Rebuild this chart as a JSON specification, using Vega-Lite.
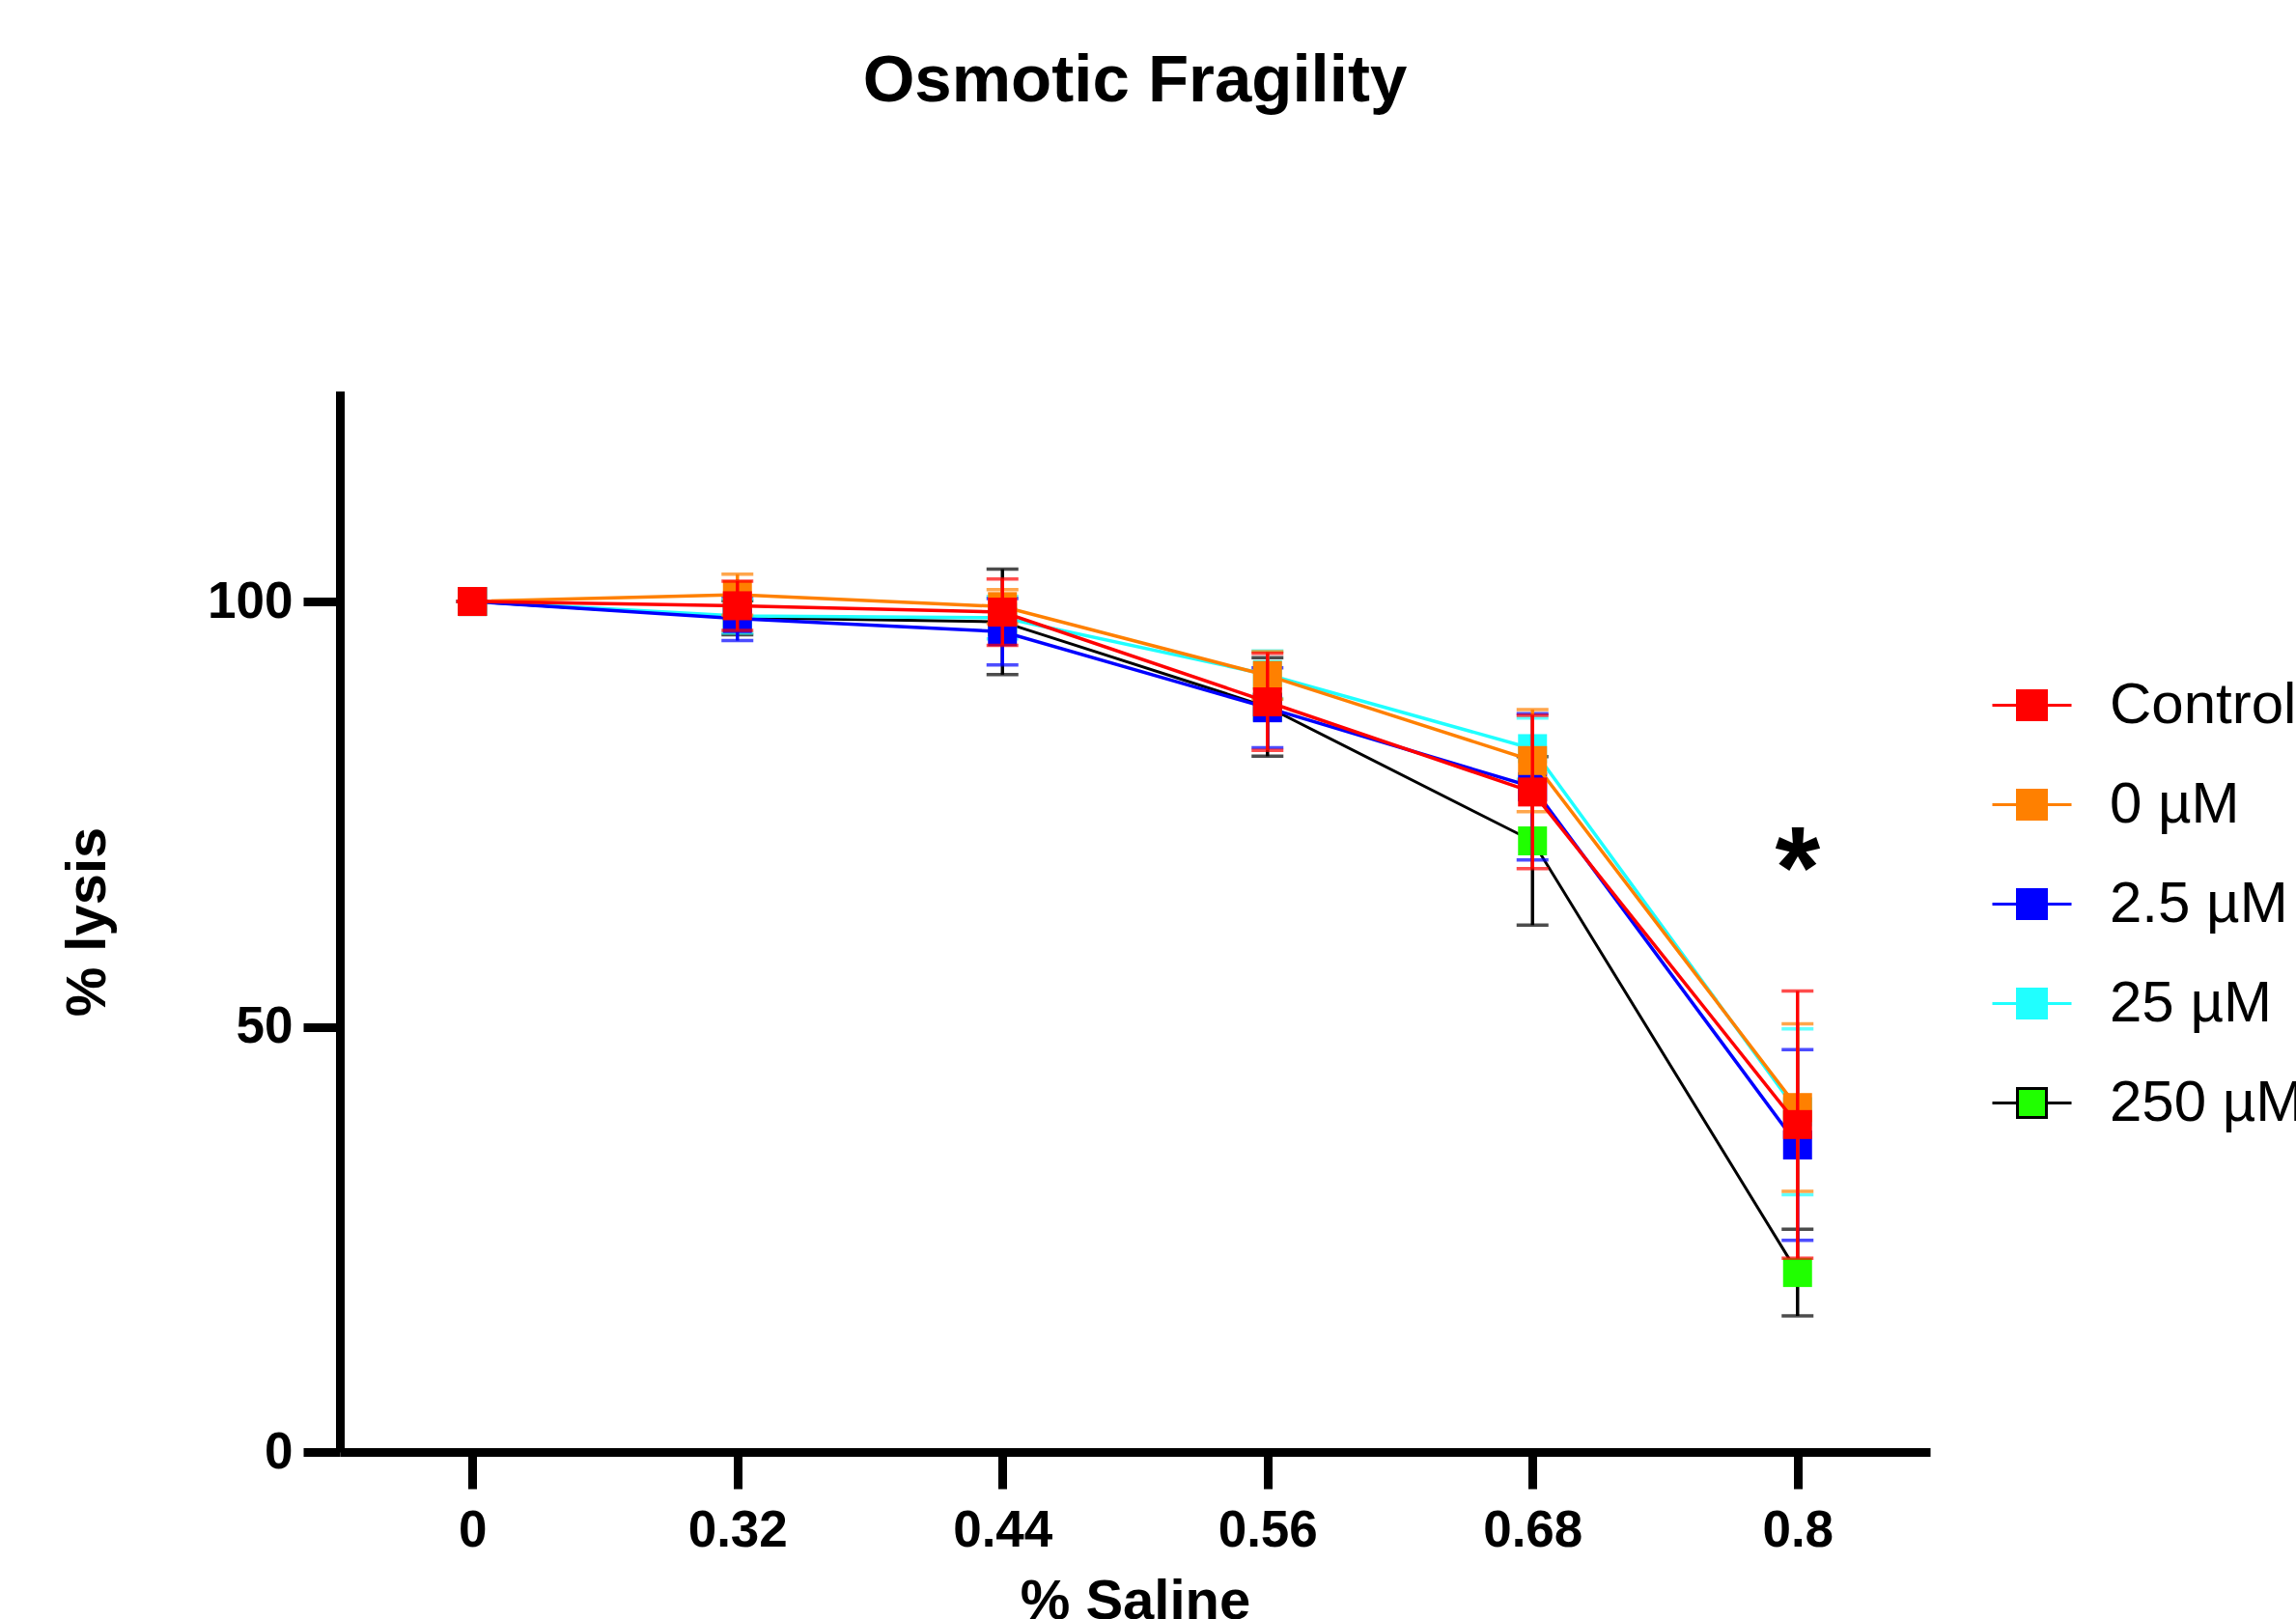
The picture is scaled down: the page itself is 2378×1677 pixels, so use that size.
{
  "$schema": "https://vega.github.io/schema/vega-lite/v6.json",
  "autosize": "none",
  "width": 1647,
  "height": 1099,
  "padding": {"left": 352, "top": 405, "right": 379, "bottom": 173},
  "background": "white",
  "title": {"text": "Osmotic Fragility", "font": "Liberation Sans", "fontWeight": "bold", "fontSize": 69, "color": "black", "anchor": "middle", "offset": 286},
  "data": {"values": [
    {"s": "Control", "x": 0, "m": 100, "e": 0},
    {"s": "Control", "x": 0.32, "m": 99.5, "e": 2.9},
    {"s": "Control", "x": 0.44, "m": 98.75, "e": 3.9},
    {"s": "Control", "x": 0.56, "m": 88.2, "e": 5.7},
    {"s": "Control", "x": 0.68, "m": 77.6, "e": 9.0},
    {"s": "Control", "x": 0.8, "m": 38.5, "e": 15.7},
    {"s": "0 µM", "x": 0, "m": 100, "e": 0},
    {"s": "0 µM", "x": 0.32, "m": 100.8, "e": 2.4},
    {"s": "0 µM", "x": 0.44, "m": 99.4, "e": 2.0},
    {"s": "0 µM", "x": 0.56, "m": 91.3, "e": 2.8},
    {"s": "0 µM", "x": 0.68, "m": 81.3, "e": 6.0},
    {"s": "0 µM", "x": 0.8, "m": 40.5, "e": 9.85},
    {"s": "2.5 µM", "x": 0, "m": 100, "e": 0},
    {"s": "2.5 µM", "x": 0.32, "m": 98.0, "e": 2.6},
    {"s": "2.5 µM", "x": 0.44, "m": 96.45, "e": 3.9},
    {"s": "2.5 µM", "x": 0.56, "m": 87.5, "e": 4.7},
    {"s": "2.5 µM", "x": 0.68, "m": 78.2, "e": 8.6},
    {"s": "2.5 µM", "x": 0.8, "m": 36.1, "e": 11.2},
    {"s": "25 µM", "x": 0, "m": 100, "e": 0},
    {"s": "25 µM", "x": 0.32, "m": 98.3, "e": 2.0},
    {"s": "25 µM", "x": 0.44, "m": 98.1, "e": 2.5},
    {"s": "25 µM", "x": 0.56, "m": 91.4, "e": 2.8},
    {"s": "25 µM", "x": 0.68, "m": 82.7, "e": 3.6},
    {"s": "25 µM", "x": 0.8, "m": 40.0, "e": 9.75},
    {"s": "250 µM", "x": 0, "m": 100, "e": 0},
    {"s": "250 µM", "x": 0.32, "m": 98.1, "e": 2.0},
    {"s": "250 µM", "x": 0.44, "m": 97.6, "e": 6.2},
    {"s": "250 µM", "x": 0.56, "m": 87.6, "e": 5.8},
    {"s": "250 µM", "x": 0.68, "m": 71.85, "e": 9.9},
    {"s": "250 µM", "x": 0.8, "m": 21.1, "e": 5.1}
  ]},
  "encoding": {
    "x": {"field": "x", "type": "ordinal", "title": "% Saline", "scale": {"type": "point", "padding": 0.5, "domain": [0, 0.32, 0.44, 0.56, 0.68, 0.8]}, "axis": {"labelAngle": 0}}
  },
  "layer": [
    {
      "transform": [{"filter": {"field": "s", "equal": "250 µM"}}],
      "layer": [
        {"mark": {"type": "errorbar", "ticks": {"size": 33, "thickness": 3.5}, "rule": {"strokeWidth": 3.5}},
         "encoding": {"y": {"field": "m", "type": "quantitative", "title": "% lysis", "scale": {"domain": [0, 124.75], "nice": false}, "axis": {"values": [0, 50, 100]}}, "yError": {"field": "e"},
           "color": {"field": "s", "type": "nominal", "legend": null, "scale": {"domain": ["250 µM", "25 µM", "2.5 µM", "0 µM", "Control"], "range": ["#000000", "#20ffff", "#0000ff", "#ff8000", "#ff0000"]}}}},
        {"mark": {"type": "line", "strokeWidth": 3},
         "encoding": {"y": {"field": "m", "type": "quantitative", "title": "% lysis"}, "color": {"field": "s", "type": "nominal", "legend": null}}},
        {"mark": {"type": "point", "shape": "square", "size": 900, "filled": true, "opacity": 1},
         "encoding": {"y": {"field": "m", "type": "quantitative", "title": "% lysis"},
           "fill": {"field": "s", "type": "nominal", "title": null, "scale": {"domain": ["Control", "0 µM", "2.5 µM", "25 µM", "250 µM"], "range": ["#ff0000", "#ff8000", "#0000ff", "#20ffff", "#20ff00"]}}}}
      ]
    },
    {
      "transform": [{"filter": {"field": "s", "equal": "25 µM"}}],
      "layer": [
        {"mark": {"type": "errorbar", "ticks": {"size": 33, "thickness": 3.5}, "rule": {"strokeWidth": 3.5}},
         "encoding": {"y": {"field": "m", "type": "quantitative", "title": "% lysis"}, "yError": {"field": "e"}, "color": {"field": "s", "type": "nominal", "legend": null}}},
        {"mark": {"type": "line", "strokeWidth": 3.5},
         "encoding": {"y": {"field": "m", "type": "quantitative", "title": "% lysis"}, "color": {"field": "s", "type": "nominal", "legend": null}}},
        {"mark": {"type": "point", "shape": "square", "size": 900, "filled": true, "opacity": 1},
         "encoding": {"y": {"field": "m", "type": "quantitative", "title": "% lysis"}, "fill": {"field": "s", "type": "nominal", "title": null}}}
      ]
    },
    {
      "transform": [{"filter": {"field": "s", "equal": "2.5 µM"}}],
      "layer": [
        {"mark": {"type": "errorbar", "ticks": {"size": 33, "thickness": 3.5}, "rule": {"strokeWidth": 3.5}},
         "encoding": {"y": {"field": "m", "type": "quantitative", "title": "% lysis"}, "yError": {"field": "e"}, "color": {"field": "s", "type": "nominal", "legend": null}}},
        {"mark": {"type": "line", "strokeWidth": 3.5},
         "encoding": {"y": {"field": "m", "type": "quantitative", "title": "% lysis"}, "color": {"field": "s", "type": "nominal", "legend": null}}},
        {"mark": {"type": "point", "shape": "square", "size": 900, "filled": true, "opacity": 1},
         "encoding": {"y": {"field": "m", "type": "quantitative", "title": "% lysis"}, "fill": {"field": "s", "type": "nominal", "title": null}}}
      ]
    },
    {
      "transform": [{"filter": {"field": "s", "equal": "0 µM"}}],
      "layer": [
        {"mark": {"type": "errorbar", "ticks": {"size": 33, "thickness": 3.5}, "rule": {"strokeWidth": 3.5}},
         "encoding": {"y": {"field": "m", "type": "quantitative", "title": "% lysis"}, "yError": {"field": "e"}, "color": {"field": "s", "type": "nominal", "legend": null}}},
        {"mark": {"type": "line", "strokeWidth": 3.5},
         "encoding": {"y": {"field": "m", "type": "quantitative", "title": "% lysis"}, "color": {"field": "s", "type": "nominal", "legend": null}}},
        {"mark": {"type": "point", "shape": "square", "size": 900, "filled": true, "opacity": 1},
         "encoding": {"y": {"field": "m", "type": "quantitative", "title": "% lysis"}, "fill": {"field": "s", "type": "nominal", "title": null}}}
      ]
    },
    {
      "transform": [{"filter": {"field": "s", "equal": "Control"}}],
      "layer": [
        {"mark": {"type": "errorbar", "ticks": {"size": 33, "thickness": 3.5}, "rule": {"strokeWidth": 3.5}},
         "encoding": {"y": {"field": "m", "type": "quantitative", "title": "% lysis"}, "yError": {"field": "e"}, "color": {"field": "s", "type": "nominal", "legend": null}}},
        {"mark": {"type": "line", "strokeWidth": 3.5},
         "encoding": {"y": {"field": "m", "type": "quantitative", "title": "% lysis"}, "color": {"field": "s", "type": "nominal", "legend": null}}},
        {"mark": {"type": "point", "shape": "square", "size": 900, "filled": true, "opacity": 1},
         "encoding": {"y": {"field": "m", "type": "quantitative", "title": "% lysis"}, "fill": {"field": "s", "type": "nominal", "title": null}}}
      ]
    },
    {
      "mark": {"type": "point", "shape": "square", "size": 0, "filled": true, "strokeWidth": 3},
      "encoding": {"y": {"field": "m", "type": "quantitative", "title": "% lysis"},
        "fill": {"field": "s", "type": "nominal", "title": null},
        "stroke": {"field": "s", "type": "nominal", "title": null, "scale": {"domain": ["Control", "0 µM", "2.5 µM", "25 µM", "250 µM"], "range": ["#ff0000", "#ff8000", "#0000ff", "#20ffff", "#000000"]}}}
    },
    {
      "data": {"values": [{"x": 0.8, "y": 64, "t": "*"}]},
      "mark": {"type": "text", "font": "Liberation Sans", "fontWeight": "bold", "fontSize": 120, "baseline": "alphabetic", "align": "center", "color": "black"},
      "encoding": {"y": {"field": "y", "type": "quantitative", "title": "% lysis"}, "text": {"field": "t"}}
    }
  ],
  "config": {
    "view": {"stroke": null},
    "axis": {"grid": false, "domainColor": "black", "domainWidth": 9, "tickColor": "black", "tickWidth": 9, "tickSize": 38,
      "labelFont": "Liberation Sans", "labelFontWeight": "bold", "labelFontSize": 53, "labelColor": "black",
      "titleFont": "Liberation Sans", "titleFontWeight": "bold", "titleFontSize": 58, "titleColor": "black"},
    "axisX": {"labelPadding": 17, "titlePadding": 18},
    "axisY": {"labelPadding": 11, "titlePadding": 94},
    "legend": {"orient": "none", "legendX": 1710, "legendY": 283, "symbolType": "M-1,0H-0.366M0.366,0H1M-0.366,-0.366H0.366V0.366H-0.366Z", "symbolSize": 6724, "symbolStrokeWidth": 3,
      "labelFont": "Liberation Sans", "labelFontSize": 60, "labelColor": "black", "labelOffset": 38, "labelLimit": 2000, "rowPadding": 30, "symbolOpacity": 1}
  }
}
